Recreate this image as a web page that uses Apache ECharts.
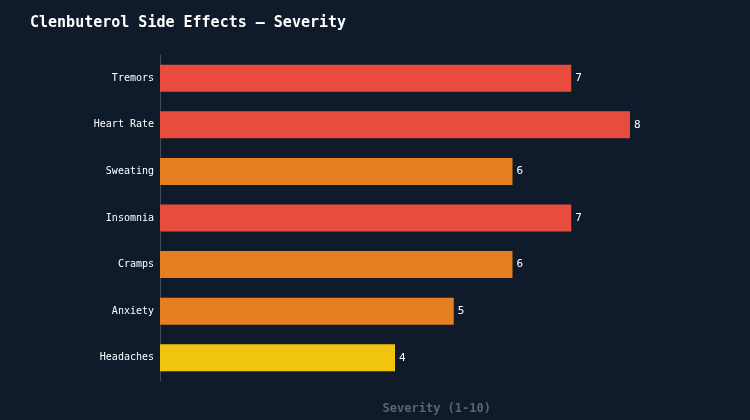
<!DOCTYPE html>
<html>
<head>
<meta charset="utf-8">
<script src="https://cdn.jsdelivr.net/npm/echarts@6/dist/echarts.min.js"></script>
<style>
  html, body { margin: 0; padding: 0; background: #0f1b2b; }
  #chart { width: 750px; height: 420px; }
</style>
</head>
<body>
<div id="chart"></div>
<script>
// categories top to bottom
const effects = ["Tremors", "Heart Rate", "Sweating", "Insomnia", "Cramps", "Anxiety", "Headaches"];
const severity = [7, 8, 6, 7, 6, 5, 4];
const barColors = ["#e74c3c", "#e74c3c", "#e67e22", "#e74c3c", "#e67e22", "#e67e22", "#f1c40f"];

const FONT = "'DejaVu Sans Mono', monospace";

const chart = echarts.init(document.getElementById("chart"), null, { renderer: "canvas" });

chart.setOption({
  backgroundColor: "#0f1b2b",
  animation: false,
  title: {
    text: "Clenbuterol Side Effects \u2013 Severity",
    left: 25,
    top: 11,
    textStyle: { color: "#ffffff", fontFamily: FONT, fontSize: 15, fontWeight: "bold" }
  },
  // bands of 47px, first centre at y=78
  grid: { left: 160, right: 2.5, top: 55, bottom: 36 },
  xAxis: {
    type: "value",
    min: 0,
    max: 10,
    axisLine: { show: false },
    axisTick: { show: false },
    axisLabel: { show: false },
    splitLine: { show: false },
    name: "Severity (1-10)",
    nameLocation: "middle",
    nameGap: 22,
    nameTextStyle: {
      color: "#5c6470",
      fontFamily: FONT,
      fontSize: 12,
      fontWeight: "bold",
      padding: [0, 34, 0, 0]
    }
  },
  yAxis: {
    type: "category",
    data: effects,
    inverse: true,
    axisLine: { show: true, lineStyle: { color: "#444a52", width: 1 } },
    axisTick: { show: false },
    axisLabel: { color: "#ffffff", fontFamily: FONT, fontSize: 10, margin: 6 },
    splitLine: { show: false }
  },
  series: [{
    type: "bar",
    data: severity.map((v, i) => ({ value: v, itemStyle: { color: barColors[i] } })),
    barWidth: 27,
    label: {
      show: true,
      position: "right",
      distance: 4,
      color: "#ffffff",
      fontFamily: FONT,
      fontSize: 11
    }
  }]
});
</script>
</body>
</html>
